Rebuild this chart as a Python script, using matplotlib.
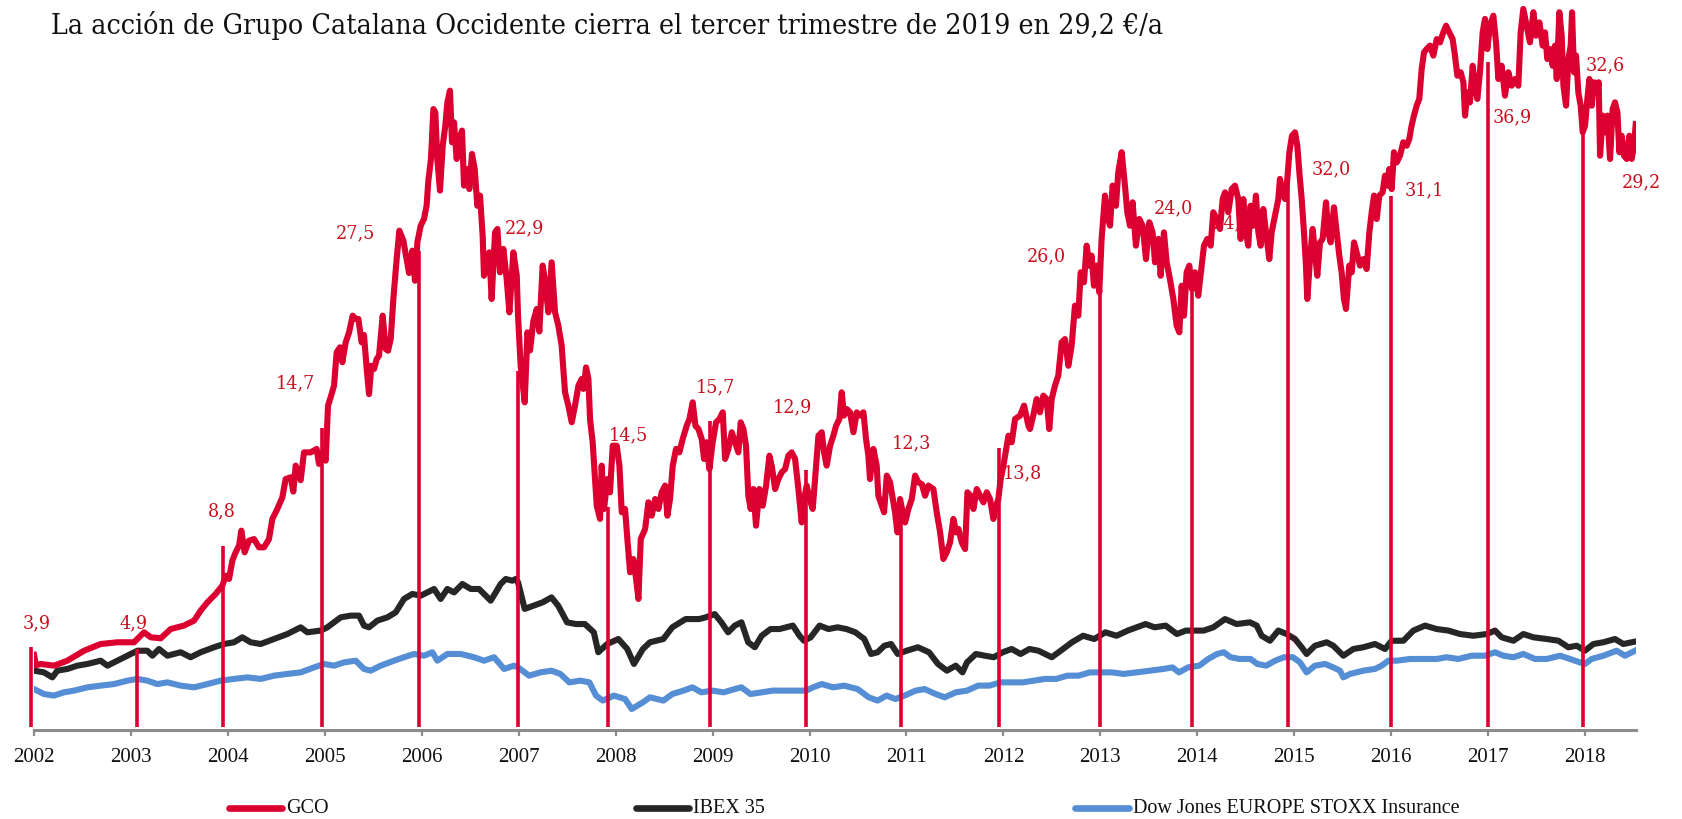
import matplotlib
matplotlib.use("Agg")
import matplotlib.pyplot as plt
from matplotlib.lines import Line2D
from matplotlib import font_manager as fm

# ---------------- data ----------------
title = "La acción de Grupo Catalana Occidente cierra el tercer trimestre de 2019 en 29,2 €/a"
series_names = ["GCO", "IBEX 35", "Dow Jones EUROPE STOXX Insurance"]
years = list(range(2002, 2019))

gco_t = [2002.000, 2002.020, 2002.069, 2002.206, 2002.344, 2002.516, 2002.688, 2002.860, 2003.032, 2003.066,
         2003.135, 2003.204, 2003.307, 2003.410, 2003.547, 2003.651, 2003.719, 2003.788, 2003.874, 2003.943,
         2003.977, 2004.012, 2004.046, 2004.080, 2004.115, 2004.139, 2004.173, 2004.218, 2004.270, 2004.321,
         2004.373, 2004.424, 2004.459, 2004.510, 2004.562, 2004.596, 2004.648, 2004.675, 2004.699, 2004.751,
         2004.785, 2004.854, 2004.916, 2004.940, 2004.975, 2005.009, 2005.033, 2005.060, 2005.095,
         2005.122, 2005.157, 2005.181, 2005.215, 2005.250, 2005.287, 2005.318, 2005.346, 2005.380, 2005.404,
         2005.432, 2005.456, 2005.480, 2005.508, 2005.535, 2005.559, 2005.597, 2005.628, 2005.652, 2005.680,
         2005.707, 2005.741, 2005.769, 2005.810, 2005.844, 2005.869, 2005.903, 2005.930, 2005.955, 2005.989,
         2006.023, 2006.050,
         2006.068, 2006.095, 2006.120, 2006.140, 2006.160, 2006.188, 2006.216, 2006.243, 2006.264, 2006.291,
         2006.312, 2006.333, 2006.360, 2006.388, 2006.415, 2006.436, 2006.463, 2006.491, 2006.518, 2006.546,
         2006.573, 2006.601, 2006.628, 2006.642, 2006.670, 2006.697, 2006.721, 2006.756, 2006.780, 2006.807,
         2006.842, 2006.876, 2006.904, 2006.945, 2006.980,
         2006.993, 2007.020, 2007.062, 2007.090, 2007.117, 2007.151, 2007.186, 2007.213, 2007.247, 2007.270,
         2007.306, 2007.340, 2007.375, 2007.409, 2007.443, 2007.478,
         2007.512, 2007.547, 2007.581, 2007.616, 2007.650, 2007.667, 2007.695, 2007.719, 2007.736, 2007.763,
         2007.788, 2007.805, 2007.839, 2007.856, 2007.880, 2007.915, 2007.942, 2007.970, 2008.011, 2008.039,
         2008.063, 2008.097, 2008.121, 2008.149, 2008.183, 2008.211, 2008.235, 2008.259, 2008.304, 2008.338,
         2008.372, 2008.407, 2008.441, 2008.475, 2008.510, 2008.534, 2008.561, 2008.589, 2008.623, 2008.657,
         2008.692, 2008.733, 2008.761, 2008.795, 2008.823, 2008.854, 2008.888, 2008.912, 2008.940, 2008.967,
         2009.001, 2009.036, 2009.070, 2009.105, 2009.129, 2009.163, 2009.198, 2009.232, 2009.266, 2009.290,
         2009.318, 2009.345, 2009.369, 2009.393, 2009.421, 2009.448, 2009.483, 2009.517, 2009.552, 2009.586,
         2009.610, 2009.645, 2009.679, 2009.713, 2009.748, 2009.782, 2009.816, 2009.851, 2009.885, 2009.919,
         2009.944, 2009.971, 2010.000, 2010.033, 2010.057, 2010.092, 2010.126, 2010.150, 2010.177, 2010.212,
         2010.246, 2010.274, 2010.308, 2010.332, 2010.356, 2010.384, 2010.418, 2010.453, 2010.487, 2010.521,
         2010.556, 2010.583, 2010.607, 2010.624, 2010.659, 2010.693, 2010.710, 2010.745, 2010.769, 2010.797,
         2010.831, 2010.859, 2010.882, 2010.907, 2010.934, 2010.961, 2010.986, 2011.020, 2011.055, 2011.089,
         2011.123, 2011.158, 2011.192, 2011.226, 2011.278, 2011.312, 2011.347, 2011.381, 2011.415, 2011.450,
         2011.484, 2011.512, 2011.536, 2011.570, 2011.605, 2011.629, 2011.663, 2011.691, 2011.725, 2011.759,
         2011.794, 2011.828, 2011.862, 2011.897, 2011.924, 2011.948, 2011.972, 2012.000, 2012.052, 2012.086,
         2012.120, 2012.172, 2012.213, 2012.258,
         2012.274, 2012.308, 2012.343, 2012.377, 2012.412, 2012.446, 2012.473, 2012.498, 2012.532, 2012.566,
         2012.601, 2012.635, 2012.670, 2012.704, 2012.738, 2012.773, 2012.797, 2012.831, 2012.859, 2012.886,
         2012.910, 2012.934, 2012.962, 2012.989, 2013.013, 2013.048, 2013.072, 2013.100, 2013.127, 2013.161,
         2013.185, 2013.220, 2013.254, 2013.278, 2013.306, 2013.333, 2013.367, 2013.402, 2013.436, 2013.471,
         2013.505, 2013.539, 2013.564, 2013.598, 2013.622, 2013.656, 2013.684, 2013.718, 2013.753, 2013.787,
         2013.815, 2013.839, 2013.863, 2013.890, 2013.918, 2013.945, 2013.976, 2014.010, 2014.045, 2014.069,
         2014.103, 2014.138, 2014.165, 2014.200, 2014.234, 2014.262, 2014.286, 2014.320, 2014.355, 2014.389,
         2014.423, 2014.447, 2014.475, 2014.502, 2014.526, 2014.550, 2014.578, 2014.605, 2014.630, 2014.654,
         2014.681, 2014.709, 2014.743, 2014.767, 2014.802, 2014.836, 2014.853, 2014.881, 2014.905, 2014.929,
         2014.950, 2014.977, 2015.008, 2015.032, 2015.053, 2015.077, 2015.101, 2015.121, 2015.135, 2015.163,
         2015.190, 2015.214, 2015.238, 2015.266, 2015.293, 2015.328, 2015.352, 2015.376, 2015.410, 2015.438,
         2015.465, 2015.489, 2015.513, 2015.534, 2015.568, 2015.593, 2015.617, 2015.644, 2015.679, 2015.713,
         2015.747, 2015.775, 2015.799, 2015.823, 2015.851, 2015.878, 2015.912, 2015.936, 2015.960, 2015.981,
         2016.005, 2016.029, 2016.057, 2016.091, 2016.125, 2016.160, 2016.187, 2016.211, 2016.235, 2016.263,
         2016.290, 2016.315, 2016.339, 2016.366, 2016.401, 2016.435, 2016.470, 2016.504, 2016.538, 2016.566,
         2016.600, 2016.634, 2016.658, 2016.683, 2016.717, 2016.745, 2016.762, 2016.786, 2016.813, 2016.841,
         2016.865, 2016.889, 2016.916, 2016.944, 2016.968, 2016.992, 2017.019, 2017.054, 2017.082, 2017.106,
         2017.140, 2017.174, 2017.209, 2017.243, 2017.278, 2017.312, 2017.336, 2017.363, 2017.398, 2017.432,
         2017.467, 2017.494, 2017.529, 2017.563, 2017.587, 2017.611, 2017.639, 2017.666, 2017.690, 2017.708,
         2017.735, 2017.759, 2017.777, 2017.804, 2017.828, 2017.852, 2017.866, 2017.886, 2017.907, 2017.931,
         2017.955, 2017.976, 2018.000, 2018.024, 2018.045, 2018.069, 2018.093, 2018.120, 2018.141, 2018.155,
         2018.182, 2018.206, 2018.230, 2018.258, 2018.285, 2018.309, 2018.334, 2018.354, 2018.378, 2018.402,
         2018.430, 2018.457, 2018.481, 2018.505, 2018.523]
gco_v = [2.80, 2.20, 2.27, 2.17, 2.46, 3.04, 3.43, 3.53, 3.53, 3.72,
         4.11, 3.82, 3.76, 4.30, 4.50, 4.79, 5.37, 5.85, 6.34, 6.82,
         7.40, 7.21, 8.28, 8.76, 9.15, 10.02, 8.76, 9.44, 9.53, 9.05,
         9.05, 9.53, 10.70, 11.28, 11.96, 13.02, 13.12, 12.29, 13.80, 12.95,
         14.57, 14.57, 14.77, 13.90, 14.57, 14.09, 17.29, 17.77, 18.45,
         20.39, 20.68, 19.81, 20.97, 21.55, 22.52, 22.33, 22.33, 20.97, 21.40,
         19.42, 17.96, 19.61, 19.42, 20.00, 20.19, 22.52, 20.58, 20.48, 21.16,
         23.49, 25.81, 27.46, 26.88, 25.81, 25.00, 26.30, 24.55, 26.80, 27.75,
         28.14, 28.91,
         30.37, 31.63, 34.53, 34.34, 31.63, 29.79, 32.40, 33.57, 34.92, 35.60,
         32.60, 33.76, 31.63, 32.79, 33.28, 30.08, 31.05, 29.88, 31.92, 31.05,
         28.91, 29.50, 27.17, 24.84, 25.62, 26.20, 23.49, 27.36, 27.56, 25.04,
         26.40, 24.65, 22.71, 26.20, 24.84,
         22.52, 19.61, 17.48, 21.55, 20.50, 22.20, 22.91, 21.60, 25.43, 24.60,
         22.71, 25.62, 22.71, 21.94, 20.78, 18.06,
         17.29, 16.32, 17.29, 18.45, 18.84, 18.26, 19.51, 18.84, 16.51, 15.16,
         13.02, 11.47, 10.70, 13.80, 11.28, 13.02, 12.25, 14.96, 14.96, 13.80,
         11.09, 11.28, 9.53, 7.60, 8.37, 7.21, 6.05, 9.53, 10.12, 11.67,
         10.89, 11.86, 11.28, 12.25, 12.64, 10.89, 11.86, 13.80, 14.77, 14.57,
         15.35, 16.12, 16.51, 17.48, 16.12, 15.93, 15.35, 14.19, 15.16, 13.60,
         15.16, 16.32, 16.51, 16.90, 14.19, 14.77, 15.74, 15.16, 14.57, 16.32,
         15.93, 14.96, 12.05, 11.28, 12.44, 10.31, 12.44, 11.47, 12.64, 14.38,
         13.80, 12.44, 13.02, 13.41, 13.60, 14.38, 14.57, 14.19, 12.44, 10.50,
         11.86, 12.64, 11.86, 11.28, 13.02, 15.54, 15.74, 14.57, 13.80, 14.96,
         15.54, 16.12, 16.51, 18.06, 16.71, 17.09, 16.90, 15.74, 16.90, 16.71,
         16.90, 15.35, 14.38, 13.02, 14.77, 13.80, 12.05, 11.47, 11.09, 13.22,
         12.83, 11.86, 11.09, 9.92, 11.86, 11.09, 10.50, 11.28, 11.86, 13.22,
         12.83, 12.73, 12.05, 12.64, 12.44, 11.09, 9.92, 8.37, 8.76, 9.34,
         10.70, 9.92, 10.12, 9.34, 8.95, 12.25, 12.05, 11.28, 12.44, 12.05,
         11.67, 12.25, 11.86, 10.70, 11.47, 11.86, 13.02, 13.80, 15.54, 15.16,
         16.51, 16.71, 17.29, 16.12,
         15.93, 16.71, 17.67, 16.90, 17.87, 17.67, 15.93, 17.67, 18.45, 19.03,
         20.97, 21.16, 19.61, 20.78, 23.10, 22.52, 25.04, 24.46, 26.59, 25.43,
         26.01, 24.26, 25.43, 23.88, 26.98, 29.50, 28.33, 27.75, 30.08, 28.91,
         30.85, 32.02, 30.08, 28.53, 27.75, 29.11, 26.59, 28.14, 27.75, 25.81,
         27.95, 27.36, 25.62, 26.98, 24.84, 27.36, 25.62, 24.65, 23.49, 21.94,
         21.55, 24.26, 22.52, 25.04, 25.43, 24.07, 25.04, 23.68, 25.43, 26.59,
         26.98, 26.59, 28.53, 28.14, 27.56, 29.30, 29.69, 28.53, 29.88, 30.08,
         29.30, 26.98, 29.30, 27.36, 26.59, 28.91, 27.75, 29.50, 27.36, 26.59,
         28.72, 27.36, 25.81, 27.36, 28.33, 29.30, 30.47, 29.69, 29.30, 30.47,
         32.02, 32.98, 33.18, 32.40, 30.85, 29.30, 27.36, 25.43, 23.49, 25.81,
         27.56, 26.20, 24.84, 26.78, 26.98, 29.11, 27.36, 26.78, 28.82, 27.36,
         26.01, 25.04, 23.49, 22.91, 25.43, 25.04, 26.78, 26.20, 25.43, 25.81,
         25.23, 27.36, 28.53, 29.50, 28.14, 29.50, 29.69, 30.66, 30.08, 31.05,
         29.88, 32.02, 31.43, 31.82, 32.60, 32.40, 32.79, 33.57, 34.15, 34.73,
         35.12, 36.86, 37.83, 38.02, 38.22, 37.64, 38.60, 38.41, 38.99, 39.38,
         38.99, 38.60, 37.64, 36.47, 36.67, 36.09, 34.15, 35.50, 34.92, 37.05,
         35.89, 35.12, 36.67, 38.99, 39.77, 38.02, 39.38, 39.96, 38.41, 36.28,
         37.05, 35.31, 36.67, 35.89, 36.28, 35.89, 38.99, 40.35, 39.38, 38.41,
         40.16, 38.80, 39.57, 38.22, 38.99, 37.44, 38.02, 37.05, 38.22, 36.28,
         40.16, 38.80, 35.89, 34.73, 37.44, 38.22, 40.16, 36.67, 37.64, 35.50,
         34.73, 33.18, 33.57, 35.12, 36.28, 34.73, 36.09, 35.50, 36.09, 31.82,
         34.15, 33.18, 34.15, 31.63, 34.53, 34.92, 34.34, 32.02, 32.98, 31.82,
         31.63, 32.98, 31.63, 32.40, 33.66]

ibex_t = [2002.000, 2002.103, 2002.189, 2002.241, 2002.344, 2002.447, 2002.550, 2002.688, 2002.757, 2002.860,
          2002.963, 2003.066, 2003.169, 2003.221, 2003.290, 2003.376, 2003.513, 2003.616, 2003.719, 2003.857,
          2003.960, 2004.063, 2004.149, 2004.235, 2004.338, 2004.476, 2004.613, 2004.751, 2004.820, 2004.957,
          2005.026, 2005.164, 2005.267, 2005.353, 2005.404, 2005.456, 2005.542, 2005.645, 2005.731, 2005.817,
          2005.903, 2005.989, 2006.058, 2006.127, 2006.195, 2006.264, 2006.333, 2006.419, 2006.505, 2006.591,
          2006.642, 2006.711, 2006.763, 2006.814, 2006.866, 2006.935, 2006.969, 2006.993, 2007.062, 2007.154,
          2007.246, 2007.338, 2007.407, 2007.499, 2007.591, 2007.683, 2007.775, 2007.821, 2007.913, 2008.028,
          2008.120, 2008.189, 2008.281, 2008.354, 2008.492, 2008.584, 2008.722, 2008.861, 2008.930, 2009.022,
          2009.091, 2009.160, 2009.229, 2009.298, 2009.367, 2009.436, 2009.506, 2009.598, 2009.690, 2009.759,
          2009.828, 2009.897, 2009.943, 2010.012, 2010.104, 2010.196, 2010.289, 2010.381, 2010.473, 2010.565,
          2010.634, 2010.703, 2010.772, 2010.841, 2010.910, 2011.002, 2011.118, 2011.233, 2011.325, 2011.417,
          2011.509, 2011.578, 2011.624, 2011.716, 2011.808, 2011.900, 2011.993, 2012.085, 2012.177, 2012.269,
          2012.361, 2012.499, 2012.591, 2012.707, 2012.822, 2012.937, 2013.052, 2013.167, 2013.283, 2013.375,
          2013.467, 2013.559, 2013.674, 2013.790, 2013.882, 2013.974, 2014.066, 2014.166, 2014.286, 2014.406,
          2014.544, 2014.613, 2014.664, 2014.750, 2014.836, 2014.922, 2015.008, 2015.077, 2015.128, 2015.214,
          2015.335, 2015.403, 2015.507, 2015.610, 2015.713, 2015.833, 2015.937, 2016.005, 2016.126, 2016.229,
          2016.349, 2016.470, 2016.590, 2016.710, 2016.848, 2016.985, 2017.071, 2017.140, 2017.261, 2017.364,
          2017.467, 2017.604, 2017.725, 2017.828, 2017.914, 2017.999, 2018.086, 2018.189, 2018.309, 2018.395,
          2018.516]
ibex_v = [1.88, 1.78, 1.49, 1.88, 1.98, 2.17, 2.27, 2.46, 2.17, 2.46,
          2.75, 3.04, 3.04, 2.75, 3.14, 2.75, 2.95, 2.66, 2.95, 3.24,
          3.43, 3.53, 3.82, 3.53, 3.43, 3.72, 4.01, 4.40, 4.11, 4.21,
          4.40, 4.98, 5.08, 5.08, 4.50, 4.40, 4.79, 4.98, 5.27, 6.05,
          6.34, 6.24, 6.43, 6.63, 6.05, 6.63, 6.43, 6.92, 6.63, 6.63,
          6.34, 5.95, 6.43, 6.92, 7.21, 7.11, 7.21, 7.02, 5.47, 5.66,
          5.85, 6.14, 5.66, 4.69, 4.59, 4.59, 4.11, 2.95, 3.43, 3.72,
          3.14, 2.27, 3.14, 3.53, 3.72, 4.40, 4.88, 4.88, 4.98, 5.17,
          4.69, 4.11, 4.50, 4.69, 3.53, 3.24, 3.91, 4.30, 4.30, 4.40,
          4.50, 3.91, 3.62, 3.82, 4.50, 4.30, 4.40, 4.30, 4.11, 3.72,
          2.85, 2.95, 3.33, 3.43, 2.85, 3.04, 3.24, 2.95, 2.27, 1.88,
          2.17, 1.78, 2.36, 2.85, 2.75, 2.66, 2.95, 3.14, 2.85, 3.14,
          3.04, 2.66, 3.04, 3.53, 3.91, 3.72, 4.11, 3.91, 4.21, 4.40,
          4.59, 4.40, 4.50, 4.01, 4.21, 4.21, 4.21, 4.40, 4.88, 4.59,
          4.69, 4.50, 3.91, 3.62, 4.21, 4.01, 3.72, 3.24, 2.85, 3.33,
          3.53, 3.33, 2.75, 3.14, 3.24, 3.43, 3.14, 3.62, 3.62, 4.21,
          4.50, 4.30, 4.21, 4.01, 3.91, 4.01, 4.21, 3.82, 3.62, 4.01,
          3.82, 3.72, 3.62, 3.24, 3.33, 3.04, 3.43, 3.53, 3.72, 3.43,
          3.57]

stoxx_t = [2002.000, 2002.103, 2002.206, 2002.309, 2002.413, 2002.550, 2002.688, 2002.825, 2002.963, 2003.066,
           2003.169, 2003.272, 2003.376, 2003.513, 2003.651, 2003.788, 2003.926, 2004.063, 2004.201, 2004.338,
           2004.476, 2004.613, 2004.751, 2004.889, 2004.992, 2005.095, 2005.198, 2005.318, 2005.404, 2005.473,
           2005.576, 2005.714, 2005.817, 2005.920, 2006.023, 2006.109, 2006.161, 2006.264, 2006.402, 2006.539,
           2006.642, 2006.746, 2006.849, 2006.952, 2006.993, 2007.108, 2007.223, 2007.338, 2007.430, 2007.522,
           2007.637, 2007.729, 2007.798, 2007.867, 2007.982, 2008.097, 2008.166, 2008.281, 2008.354, 2008.492,
           2008.584, 2008.700, 2008.792, 2008.884, 2009.000, 2009.114, 2009.229, 2009.298, 2009.390, 2009.506,
           2009.621, 2009.736, 2009.851, 2009.966, 2010.035, 2010.127, 2010.242, 2010.358, 2010.496, 2010.611,
           2010.703, 2010.795, 2010.887, 2010.979, 2011.095, 2011.187, 2011.302, 2011.394, 2011.509, 2011.624,
           2011.740, 2011.855, 2011.970, 2012.085, 2012.200, 2012.315, 2012.430, 2012.545, 2012.661, 2012.776,
           2012.891, 2013.007, 2013.122, 2013.237, 2013.375, 2013.513, 2013.651, 2013.743, 2013.812, 2013.904,
           2014.020, 2014.112, 2014.204, 2014.274, 2014.343, 2014.435, 2014.550, 2014.619, 2014.711, 2014.803,
           2014.895, 2014.987, 2015.060, 2015.128, 2015.214, 2015.318, 2015.403, 2015.472, 2015.507, 2015.576,
           2015.713, 2015.833, 2015.902, 2015.971, 2016.057, 2016.194, 2016.332, 2016.470, 2016.573, 2016.693,
           2016.831, 2016.968, 2017.071, 2017.157, 2017.261, 2017.364, 2017.484, 2017.604, 2017.742, 2017.845,
           2017.948, 2017.999, 2018.068, 2018.189, 2018.326, 2018.412, 2018.516]
stoxx_v = [0.81, 0.52, 0.43, 0.62, 0.72, 0.91, 1.01, 1.10, 1.30, 1.40,
           1.30, 1.10, 1.20, 1.01, 0.91, 1.10, 1.30, 1.40, 1.49, 1.40,
           1.59, 1.69, 1.78, 2.07, 2.27, 2.17, 2.36, 2.46, 1.98, 1.88,
           2.17, 2.46, 2.66, 2.85, 2.75, 2.95, 2.46, 2.85, 2.85, 2.66,
           2.46, 2.66, 1.98, 2.17, 2.07, 1.59, 1.78, 1.88, 1.69, 1.20,
           1.30, 1.20, 0.43, 0.14, 0.43, 0.23, -0.35, 0.04, 0.33, 0.14,
           0.52, 0.72, 0.91, 0.62, 0.72, 0.62, 0.81, 0.91, 0.52, 0.62,
           0.72, 0.72, 0.72, 0.72, 0.91, 1.10, 0.91, 1.01, 0.81, 0.33,
           0.14, 0.43, 0.23, 0.43, 0.72, 0.81, 0.52, 0.33, 0.62, 0.72,
           1.01, 1.01, 1.20, 1.20, 1.20, 1.30, 1.40, 1.40, 1.59, 1.59,
           1.78, 1.78, 1.78, 1.69, 1.78, 1.88, 1.98, 2.07, 1.78, 2.07,
           2.17, 2.56, 2.85, 2.95, 2.66, 2.56, 2.56, 2.27, 2.17, 2.46,
           2.66, 2.66, 2.36, 1.78, 2.17, 2.27, 2.07, 1.88, 1.49, 1.69,
           1.88, 1.98, 2.17, 2.46, 2.46, 2.56, 2.56, 2.56, 2.66, 2.56,
           2.75, 2.75, 2.95, 2.75, 2.66, 2.85, 2.56, 2.56, 2.75, 2.56,
           2.36, 2.27, 2.56, 2.75, 3.04, 2.75, 3.04]

# year-end markers (vertical lines)
mark_t = [2001.97, 2003.06, 2003.95, 2004.97, 2005.97, 2006.99, 2007.92, 2008.97, 2009.96,
          2010.94, 2011.95, 2013.00, 2013.95, 2014.94, 2016.00, 2017.00, 2017.98]
mark_top = [3.26, 3.14, 9.13, 15.99, 26.28, 19.30, 11.40, 16.40, 13.55,
            11.92, 14.83, 23.90, 24.07, 30.47, 29.48, 37.27, 33.20]
mark_bottom = -1.38

# price labels
label_text = ["3,9", "4,9", "8,8", "14,7", "27,5", "22,9", "14,5", "15,7", "12,9", "12,3",
              "13,8", "26,0", "24,0", "32,0", "31,1", "36,9", "32,6", "29,2"]
label_t = [2001.887, 2002.877, 2003.795, 2004.496, 2005.115, 2006.859, 2007.931, 2008.829, 2009.623, 2010.851,
           2011.996, 2012.243, 2013.554, 2015.184, 2016.143, 2017.050, 2018.010, 2018.381]
label_v = [4.71, 4.71, 11.22, 18.66, 27.38, 27.67, 15.64, 18.43, 17.27, 15.17,
           13.43, 26.05, 28.84, 31.10, 29.88, 34.13, 37.15, 30.35]
hidden_label = ("24,6", 2014.162, 27.97)

# ---------------- style ----------------
W, H = 1682, 820
RED = "#dc0030"
LABEL_RED = "#c8101e"
BLACK = "#262626"
BLUE = "#558ed5"
GREY = "#8c8c8c"

plt.rcParams["font.family"] = ["Liberation Serif", "DejaVu Serif"]

# condensed slab-like serif if available (closer to the reference face)
cond = [f for f in fm.fontManager.ttflist
        if f.name == "DejaVu Serif" and str(f.stretch) in ("condensed", "semi-condensed")
        and str(f.weight) in ("400", "normal", "book", "regular") and str(f.style) == "normal"]
if cond:
    TITLE_FP = fm.FontProperties(fname=cond[0].fname)
    LABEL_FP = fm.FontProperties(fname=cond[0].fname)
    LABEL_SIZE = 14.0
else:
    TITLE_FP = fm.FontProperties(family=["Liberation Serif"])
    LABEL_FP = fm.FontProperties(family=["Liberation Serif"])
    LABEL_SIZE = 16.0

fig = plt.figure(figsize=(W / 100, H / 100), dpi=100)
fig.patch.set_facecolor("white")
ax = fig.add_axes([34 / W, (H - 731) / H, (1636 - 34) / W, 731 / H])
ax.set_xlim(2002, 2002 + (1636 - 34) / 96.94)
ax.set_ylim((704 - 731) / 17.2, 704 / 17.2)

ax.plot(stoxx_t, stoxx_v, color=BLUE, lw=4.4, zorder=2, solid_joinstyle="round")
ax.plot(ibex_t, ibex_v, color=BLACK, lw=4.4, zorder=2.2, solid_joinstyle="round")
ax.text(hidden_label[1], hidden_label[2], hidden_label[0], color=LABEL_RED, fontsize=LABEL_SIZE,
        fontproperties=LABEL_FP, ha="left", va="center", zorder=2.5)
ax.plot(gco_t, gco_v, color=RED, lw=4.4, zorder=3, solid_joinstyle="round")
ax.vlines(mark_t, mark_bottom, mark_top, color=RED, lw=2.6, zorder=4, clip_on=False)

for s, t, v in zip(label_text, label_t, label_v):
    txt = ax.text(t, v, s, color=LABEL_RED, ha="left", va="center", zorder=5, fontproperties=LABEL_FP)
    txt.set_fontsize(LABEL_SIZE)

for side in ("top", "left", "right"):
    ax.spines[side].set_visible(False)
ax.spines["bottom"].set_color(GREY)
ax.spines["bottom"].set_linewidth(2.2)
ax.set_yticks([])
ax.set_xticks(years)
ax.set_xticklabels([str(y) for y in years])
ax.tick_params(axis="x", length=4.5, width=1.6, color=GREY, pad=8, labelsize=15, labelcolor="#111111")

# title (fit to reference width)
tt = fig.text(51 / W, 1 - 25 / H, title, ha="left", va="center", color="#111111", fontproperties=TITLE_FP)
tt.set_fontsize(21)
fig.canvas.draw()
wt = tt.get_window_extent().width
tt.set_fontsize(21 * 1111 / wt)

# legend drawn manually
leg_y = 1 - 809 / H
leg_lines = [(229, 282), (636, 689), (1075, 1129)]
leg_text_x = [286, 693, 1133]
leg_colors = [RED, BLACK, BLUE]
for (x0, x1), tx, c, name in zip(leg_lines, leg_text_x, leg_colors, series_names):
    fig.add_artist(Line2D([x0 / W, x1 / W], [leg_y, leg_y], color=c, lw=4.8,
                          solid_capstyle="round", transform=fig.transFigure))
    fig.text(tx / W, leg_y, name, fontsize=14.5, ha="left", va="center", color="#111111")

fig.savefig("out.png", dpi=100, facecolor="white")
